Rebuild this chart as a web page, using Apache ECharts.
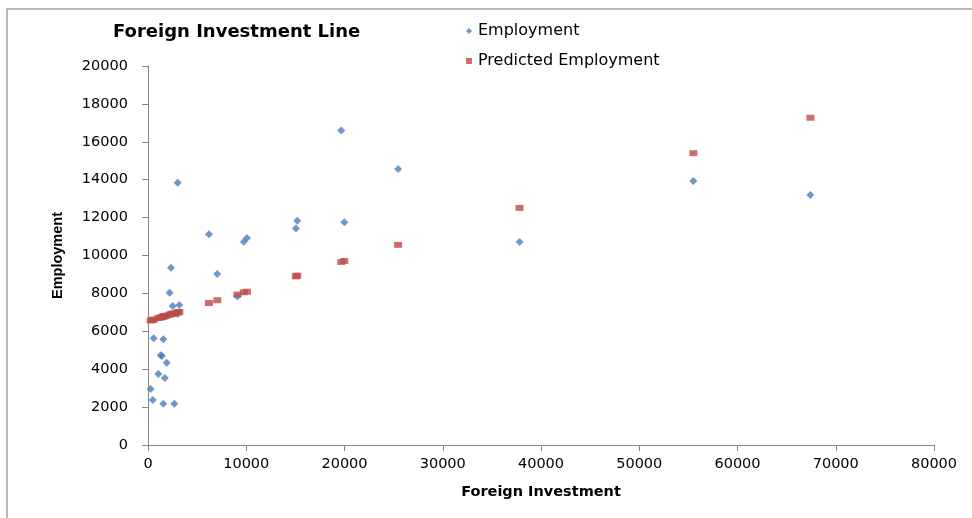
<!DOCTYPE html>
<html>
<head>
<meta charset="utf-8">
<script src="https://cdn.jsdelivr.net/npm/echarts@6/dist/echarts.min.js"></script>
<style>html,body{margin:0;padding:0;background:#fff}#c{width:972px;height:518px}</style>
</head>
<body>
<div id="c"></div>
<script>
const investment = [270, 480, 580, 1050, 1290, 1420, 1560, 1560, 1710, 1900, 2200, 2340, 2510, 2680, 3020, 3190, 3020, 6200, 7050, 9100, 9750, 10070, 15050, 15190, 19670, 19980, 25460, 37820, 55510, 67420];
const employment = [2960, 2370, 5630, 3750, 4730, 4700, 5580, 2180, 3540, 4340, 8040, 9360, 7330, 2180, 13840, 7390, 6910, 11120, 9020, 7830, 10730, 10920, 11430, 11840, 16590, 11750, 14560, 10710, 13930, 13190];
const predicted = [6570, 6600, 6620, 6700, 6730, 6750, 6780, 6780, 6800, 6830, 6880, 6900, 6930, 6950, 7000, 7020, 7000, 7490, 7640, 7940, 8060, 8090, 8900, 8940, 9660, 9710, 10560, 12510, 15400, 17270];
const xTicks = [0, 10000, 20000, 30000, 40000, 50000, 60000, 70000, 80000];
const yTicks = [0, 2000, 4000, 6000, 8000, 10000, 12000, 14000, 16000, 18000, 20000];

const empData = investment.map((x, i) => [x, employment[i]]);
const predData = investment.map((x, i) => [x, predicted[i]]);

const chart = echarts.init(document.getElementById('c'));
const axisColor = '#868686';
chart.setOption({
  animation: false,
  backgroundColor: '#fff',
  title: {
    text: 'Foreign Investment Line',
    left: 108, top: 18,
    textStyle: {fontFamily: 'DejaVu Sans', fontWeight: 'bold', fontSize: 18, color: '#000'}
  },
  legend: {
    orient: 'vertical', left: 461, top: 18, itemGap: 14,
    itemWidth: 6, itemHeight: 6,
    textStyle: {fontFamily: 'DejaVu Sans', fontSize: 16, color: '#000', padding: [0, 0, 0, 1]},
    data: [
      {name: 'Employment', icon: 'diamond', itemStyle: {color: '#4a7ebb'}},
      {name: 'Predicted Employment', icon: 'rect', itemStyle: {color: '#be4b48'}}
    ]
  },
  graphic: [{
    type: 'rect', silent: true,
    shape: {x: 7, y: 9, width: 1000, height: 600},
    style: {fill: 'none', stroke: '#a0a0a0', lineWidth: 1.5}
  }],
  grid: {left: 148, top: 66, right: 38, bottom: 73},
  xAxis: {
    type: 'value', min: 0, max: 80000, interval: 10000,
    name: 'Foreign Investment', nameLocation: 'middle', nameGap: 40,
    nameTextStyle: {fontFamily: 'DejaVu Sans', fontWeight: 'bold', fontSize: 14.5, color: '#000'},
    axisLine: {show: true, lineStyle: {color: axisColor, width: 1}},
    axisTick: {show: true, length: 6, lineStyle: {color: axisColor}},
    splitLine: {show: false},
    axisLabel: {fontFamily: 'DejaVu Sans', fontSize: 14.5, color: '#000', margin: 12,
      formatter: v => xTicks.includes(v) ? String(v) : ''}
  },
  yAxis: {
    type: 'value', min: 0, max: 20000, interval: 2000,
    name: 'Employment', nameLocation: 'middle', nameGap: 83, nameRotate: 90,
    nameTextStyle: {fontFamily: 'Liberation Sans Narrow, Liberation Sans', fontWeight: 'bold', fontSize: 14.5, color: '#000'},
    axisLine: {show: true, lineStyle: {color: axisColor, width: 1}},
    axisTick: {show: true, length: 6, lineStyle: {color: axisColor}},
    splitLine: {show: false},
    axisLabel: {fontFamily: 'DejaVu Sans', fontSize: 14.5, color: '#000', margin: 20,
      formatter: v => yTicks.includes(v) ? String(v) : ''}
  },
  series: [
    {name: 'Employment', type: 'scatter', data: empData, symbol: 'diamond', symbolSize: 8,
      itemStyle: {color: '#4a7ebb'}, z: 3},
    {name: 'Predicted Employment', type: 'scatter', data: predData, symbol: 'rect', symbolSize: [8, 6],
      itemStyle: {color: '#be4b48'}, z: 4}
  ]
});
</script>
</body>
</html>
